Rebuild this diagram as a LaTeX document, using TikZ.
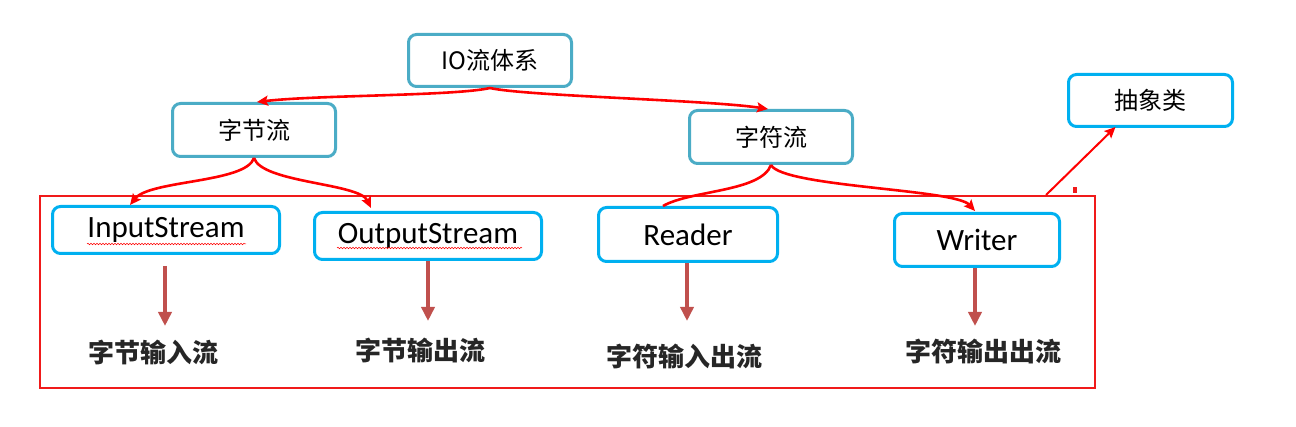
\documentclass[tikz,border=0pt]{standalone}
\usepackage{fontspec}
\setmainfont{Carlito}
\newfontfamily\cjk{Noto Sans CJK SC}
\usetikzlibrary{arrows.meta,decorations.pathmorphing}
\definecolor{tealb}{HTML}{4BACC6}
\definecolor{cyanb}{HTML}{00B0F0}
\definecolor{brownr}{HTML}{C0504D}
\definecolor{redl}{HTML}{F01A1A}
\definecolor{labelc}{HTML}{262626}
\tikzset{
  boxbase/.style={draw, rounded corners=8pt, line width=3pt, inner sep=0pt, align=center, fill=white},
  topbox/.style={boxbase, draw=tealb, font=\cjk\fontsize{24pt}{28pt}\selectfont},
  clsbox/.style={boxbase, draw=cyanb, font=\fontsize{31pt}{36pt}\selectfont},
  absbox/.style={boxbase, draw=cyanb, font=\cjk\fontsize{24pt}{28pt}\selectfont},
  lbl/.style={font=\cjk\bfseries\fontsize{26pt}{30pt}\selectfont, text=labelc, inner sep=0pt},
  redcon/.style={draw=red, line width=2.6pt, -{Stealth[length=11pt,width=10pt,inset=2pt]}},
  redplain/.style={draw=red, line width=2.6pt},
  brw/.style={draw=brownr, line width=4pt, -{Triangle[length=14pt,width=13pt]}},
  squig/.style={draw=red, line width=0.5pt, decorate, decoration={snake, amplitude=0.8pt, segment length=3pt}},
}
\begin{document}
\begin{tikzpicture}[x=1pt,y=-1pt]
\useasboundingbox (0,0) rectangle (1296,427);

% group rectangle
\node[draw=redl, line width=2pt, minimum width=1055pt, minimum height=192pt, inner sep=0pt] (grp) at (567.5,292) {};
\fill[redl] (1073,187) rectangle (1077,193);

% top level
\node[topbox, minimum width=163pt, minimum height=52pt] (io) at (490,60.5) {IO流体系};
\node[topbox, minimum width=163pt, minimum height=53pt] (zjl) at (254,130) {字节流};
\node[topbox, minimum width=163pt, minimum height=53pt] (zfl) at (771,137) {字符流};
\node[absbox, minimum width=164pt, minimum height=52pt] (abs) at (1150.5,100.5) {抽象类};

% classes
\node[clsbox, minimum width=227pt, minimum height=47pt] (in) at (166,230) {\raisebox{-2pt}{InputStream}};
\node[clsbox, minimum width=227pt, minimum height=47pt] (out) at (428,236) {\raisebox{-2pt}{OutputStream}};
\node[clsbox, minimum width=179pt, minimum height=54pt] (rd) at (688,234.5) {Reader};
\node[clsbox, minimum width=165pt, minimum height=53pt] (wr) at (977,240) {Writer};

% spell-check squiggles
\draw[squig] (87,244) -- (246,244);
\draw[squig] (337,248) -- (522,248);

% labels
\node[lbl] (l1) at (153,352) {字节输入流};
\node[lbl] (l2) at (420,351) {字节输出流};
\node[lbl] (l3) at (684,357) {字符输入出流};
\node[lbl] (l4) at (983,352) {字符输出出流};

% red connectors
\draw[redcon] (io.south) .. controls +(-35,8) and +(60,-7) .. ([xshift=3pt]zjl.north);
\draw[redcon] (io.south) .. controls +(35,8) and +(-60,-9) .. ([xshift=-3pt]zfl.north);
\draw[redcon] (zjl.south) .. controls +(-8,25) and +(20,-25) .. ([xshift=-36pt]in.north);
\draw[redcon] (zjl.south) .. controls +(8,25) and +(-12,-25) .. ([xshift=-57pt,yshift=3pt]out.north);
\draw[redplain] (zfl.south) .. controls +(-10,27) and +(28,-16) .. ([xshift=-25pt]rd.north);
\draw[redcon] (zfl.south) .. controls +(12,22) and +(-20,-22) .. ([xshift=-2pt,yshift=1pt]wr.north);
\draw[redcon, line width=2pt] ([xshift=-50pt]grp.north east) -- ([xshift=-35pt,yshift=1pt]abs.south);

% brown arrows
\draw[brw] ([xshift=-1pt,yshift=-11pt]in.south) -- ([xshift=-1pt,yshift=-71pt]in.south);
\draw[brw] (out.south) -- ([yshift=-60pt]out.south);
\draw[brw] ([xshift=-1pt]rd.south) -- ([xshift=-1pt,yshift=-58pt]rd.south);
\draw[brw] ([xshift=-2pt]wr.south) -- ([xshift=-2pt,yshift=-58pt]wr.south);
\end{tikzpicture}
\end{document}
